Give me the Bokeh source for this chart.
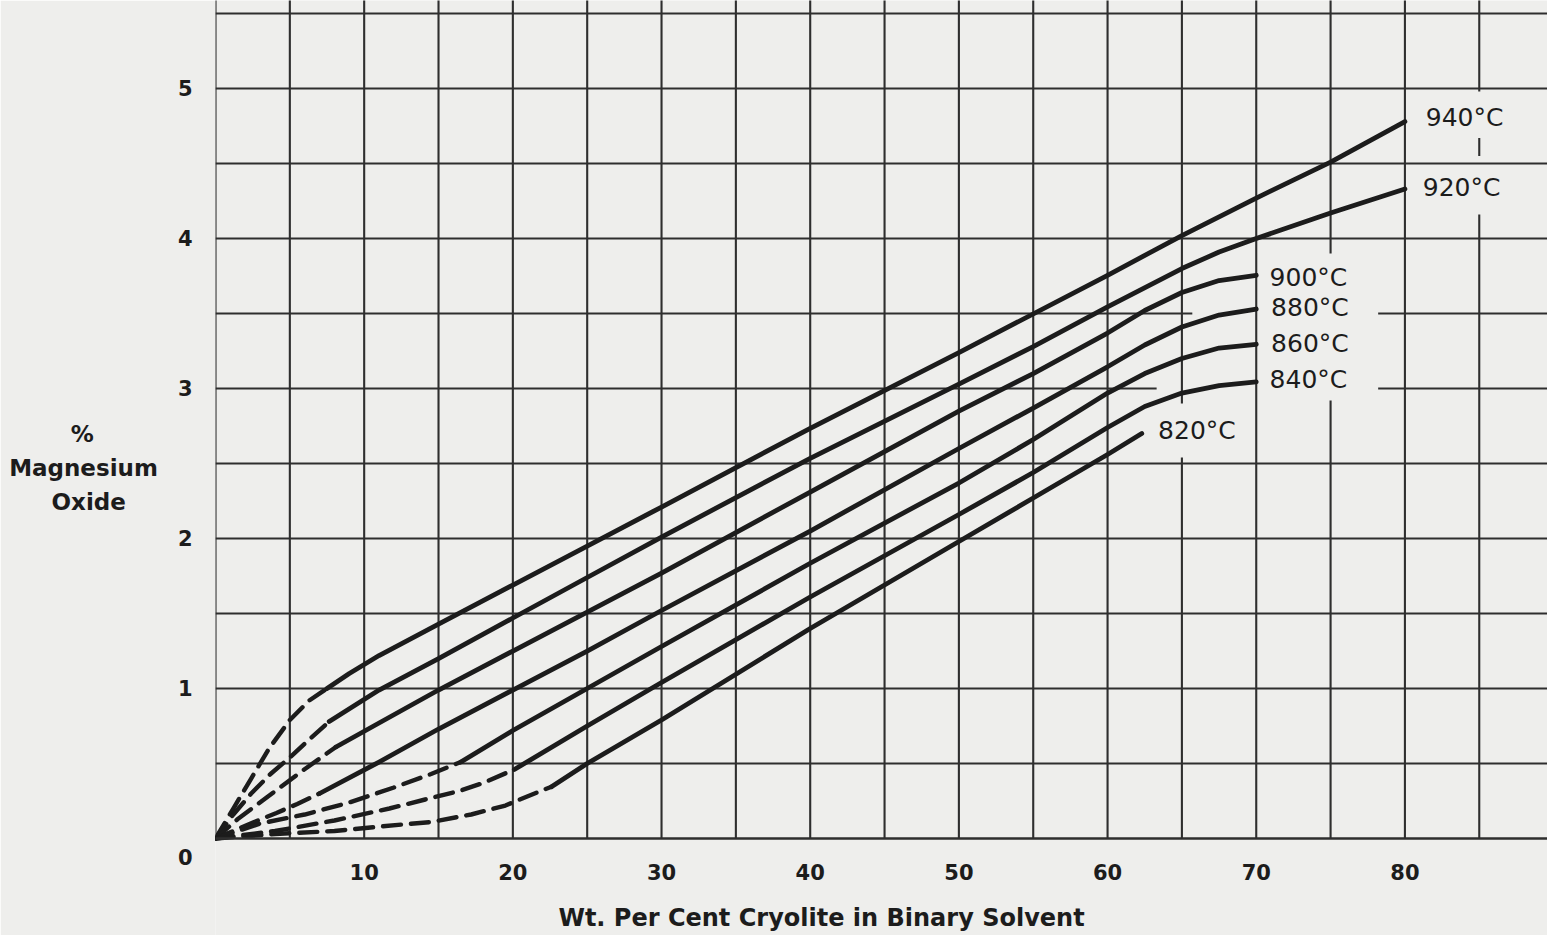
from bokeh.plotting import figure
from bokeh.models import Range1d, Label, FixedTicker
from bokeh.embed import file_html
from bokeh.resources import INLINE

# ---------------- data ----------------
temps = ["940", "920", "900", "880", "860", "840", "820"]

dash_x_940 = [0, 1.2, 2.4, 3.6, 5.0, 6.3, 7.5]
dash_y_940 = [0, 0.20, 0.40, 0.60, 0.79, 0.92, 1.00]
solid_x_940 = [7.5, 9, 11, 15, 20, 25, 30, 40, 50, 60, 65, 70, 75, 80]
solid_y_940 = [1.00, 1.10, 1.22, 1.43, 1.69, 1.95, 2.21, 2.735, 3.24, 3.755, 4.02, 4.27, 4.51, 4.78]

dash_x_920 = [0, 1.2, 2.4, 3.7, 5.0, 6.3, 7.65]
dash_y_920 = [0, 0.16, 0.30, 0.43, 0.54, 0.66, 0.78]
solid_x_920 = [7.65, 11, 15, 20, 25, 30, 40, 50, 55, 60, 65, 67.5, 70, 75, 80]
solid_y_920 = [0.78, 0.99, 1.20, 1.47, 1.74, 2.01, 2.535, 3.03, 3.28, 3.545, 3.80, 3.91, 4.00, 4.17, 4.33]

dash_x_900 = [0, 1.5, 3.8, 5.9, 8.1]
dash_y_900 = [0, 0.13, 0.30, 0.455, 0.61]
solid_x_900 = [8.1, 11, 15, 20, 25, 30, 40, 50, 55, 60, 62.5, 65, 67.5, 70]
solid_y_900 = [0.61, 0.77, 0.99, 1.25, 1.51, 1.77, 2.31, 2.85, 3.10, 3.37, 3.52, 3.64, 3.72, 3.755]

dash_x_880 = [0, 2.6, 4.1, 5.5, 7.0]
dash_y_880 = [0, 0.11, 0.17, 0.23, 0.30]
solid_x_880 = [7.0, 11, 15, 20, 25, 30, 40, 50, 55, 60, 62.5, 65, 67.5, 70]
solid_y_880 = [0.30, 0.51, 0.73, 0.99, 1.25, 1.52, 2.05, 2.60, 2.87, 3.145, 3.29, 3.41, 3.49, 3.53]

dash_x_860 = [0, 3, 6, 9, 12, 14.5, 16.5]
dash_y_860 = [0, 0.10, 0.16, 0.24, 0.34, 0.43, 0.51]
solid_x_860 = [16.5, 20, 25, 30, 40, 50, 55, 60, 62.5, 65, 67.5, 70]
solid_y_860 = [0.51, 0.72, 1.00, 1.28, 1.835, 2.37, 2.66, 2.97, 3.10, 3.20, 3.27, 3.295]

dash_x_840 = [0, 4, 8, 11.7, 14.1, 16.5, 18, 20.1]
dash_y_840 = [0, 0.05, 0.12, 0.20, 0.26, 0.32, 0.37, 0.46]
solid_x_840 = [20.1, 25, 30, 40, 50, 55, 60, 62.5, 65, 67.5, 70]
solid_y_840 = [0.46, 0.75, 1.04, 1.61, 2.16, 2.44, 2.74, 2.88, 2.97, 3.02, 3.044]

dash_x_820 = [0, 4, 8, 11.1, 14.5, 17.2, 19.5, 21.7, 22.6]
dash_y_820 = [0, 0.03, 0.05, 0.08, 0.11, 0.16, 0.22, 0.31, 0.345]
solid_x_820 = [22.6, 25, 30, 40, 50, 55, 60, 62.3]
solid_y_820 = [0.345, 0.50, 0.79, 1.40, 1.98, 2.27, 2.56, 2.70]

x_ticks = [10, 20, 30, 40, 50, 60, 70, 80]
y_ticks = [0, 1, 2, 3, 4, 5]
x_grid = [0, 5, 10, 15, 20, 25, 30, 35, 40, 45, 50, 55, 60, 65, 70, 75, 80, 85]
y_grid = [0.5, 1.0, 1.5, 2.0, 2.5, 3.0, 3.5, 4.0, 4.5, 5.0, 5.5]

# label anchor positions (data units, left / middle)
label_x = [81.4, 81.2, 70.9, 71.0, 71.0, 70.9, 63.4]
label_y = [4.81, 4.34, 3.74, 3.54, 3.30, 3.06, 2.72]

# ---------------- styles ----------------
BG = "#eeeeec"
INK = "#1c1c1c"
GRID = "#2e2e2e"
FONT = "DejaVu Sans"
NB = "\u00a0"

# frame covers the full height; the x axis sits at y = 0 inside it
p = figure(width=1547, height=935, x_range=Range1d(0, 89.59), y_range=Range1d(-0.6467, 5.587),
           output_backend="svg", toolbar_location=None,
           min_border_left=215, min_border_right=0, min_border_top=0, min_border_bottom=0)
p.background_fill_color = BG
p.border_fill_color = BG
p.outline_line_color = None
p.xgrid.visible = False
p.ygrid.visible = False

# grid with small gaps where the original has lettering
gaps_v = {65: [(2.54, 2.90)], 75: [(2.92, 3.90)], 85: [(4.16, 4.55), (4.67, 4.98)]}
gaps_h = {3.0: [(63.3, 78.2)], 3.5: [(65.7, 78.2)]}


def pieces(lo, hi, gaps):
    segs, start = [], lo
    for a, b in gaps:
        segs.append((start, a))
        start = b
    segs.append((start, hi))
    return segs


gx, gy, gw = [], [], []
for xv in x_grid:
    for a, b in pieces(0, 5.7, gaps_v.get(xv, [])):
        gx.append([xv, xv])
        gy.append([a, b])
        gw.append(3.0 if xv == 0 else 2.1)
for yv in y_grid:
    for a, b in pieces(0, 90, gaps_h.get(yv, [])):
        gx.append([a, b])
        gy.append([yv, yv])
        gw.append(2.1)
p.multi_line(xs=gx, ys=gy, line_color=GRID, line_width=2.1)

curves = [
    (dash_x_940, dash_y_940, solid_x_940, solid_y_940),
    (dash_x_920, dash_y_920, solid_x_920, solid_y_920),
    (dash_x_900, dash_y_900, solid_x_900, solid_y_900),
    (dash_x_880, dash_y_880, solid_x_880, solid_y_880),
    (dash_x_860, dash_y_860, solid_x_860, solid_y_860),
    (dash_x_840, dash_y_840, solid_x_840, solid_y_840),
    (dash_x_820, dash_y_820, solid_x_820, solid_y_820),
]
for dx, dy, sx, sy in curves:
    p.line(dx, dy, line_color=INK, line_width=4.4, line_dash="18 10", line_cap="round")
    p.line(sx, sy, line_color=INK, line_width=4.8, line_join="round", line_cap="round")

for t, lx, ly in zip(temps, label_x, label_y):
    p.add_layout(Label(x=lx, y=ly, text=t + "°C", text_font=FONT, text_font_size="25px",
                       text_color=INK, text_align="left", text_baseline="middle"))

# axes
for ax in (p.xaxis[0], p.yaxis[0]):
    ax.axis_line_color = GRID
    ax.axis_line_width = 2.5
    ax.major_tick_line_color = None
    ax.minor_tick_line_color = None
    ax.major_tick_out = 0
    ax.major_tick_in = 0
    ax.major_label_text_font = FONT
    ax.major_label_text_font_style = "bold"
    ax.major_label_text_font_size = "21px"
    ax.major_label_text_color = INK

p.xaxis.fixed_location = 0
p.yaxis.axis_line_color = None
p.xaxis.ticker = FixedTicker(ticks=x_ticks)
p.yaxis.ticker = FixedTicker(ticks=y_ticks)
p.yaxis.major_label_overrides = {0: "\n0"}
p.yaxis.major_label_text_line_height = 1.6
p.xaxis.major_label_standoff = 25
p.yaxis.major_label_standoff = 23

# y title, horizontal, three centred lines
p.yaxis.axis_label = "%" + NB * 8 + "\nMagnesium\nOxide" + NB * 4
p.yaxis.axis_label_orientation = "horizontal"
p.yaxis.axis_label_text_font = FONT
p.yaxis.axis_label_text_font_style = "bold"
p.yaxis.axis_label_text_font_size = "23px"
p.yaxis.axis_label_text_color = INK
p.yaxis.axis_label_text_line_height = 1.32
p.yaxis.axis_label_standoff = 17

# x title
p.add_layout(Label(x=40.76, y=-0.533, text="Wt. Per Cent Cryolite in Binary Solvent",
                   text_font=FONT, text_font_style="bold", text_font_size="24px",
                   text_color=INK, text_align="center", text_baseline="middle"))

open("out.html", "w").write(file_html(p, INLINE))
